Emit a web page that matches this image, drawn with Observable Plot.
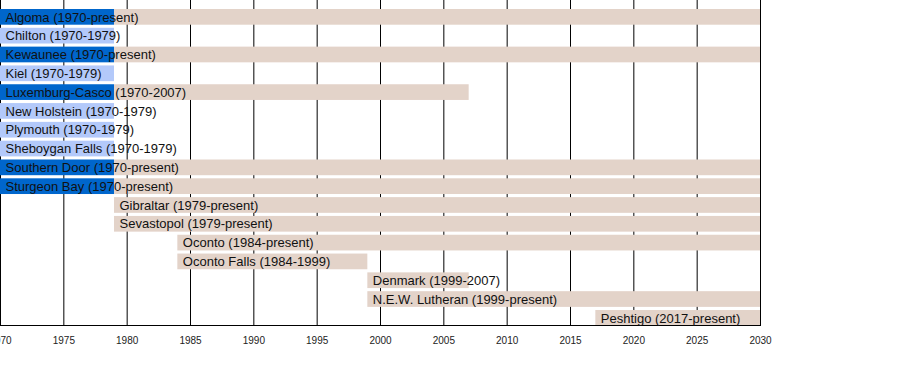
<!DOCTYPE html>
<html>
<head>
<meta charset="utf-8">
<script src="https://cdn.jsdelivr.net/npm/d3@7"></script>
<script src="https://cdn.jsdelivr.net/npm/@observablehq/plot@0.6"></script>
<style>
  html, body { margin: 0; padding: 0; background: #fff; }
  #chart svg { font-family: "Liberation Sans", Arial, sans-serif; }
</style>
</head>
<body>
<div id="chart"></div>
<script>
// Schools (row order) and their label text
const schools = ["Algoma", "Chilton", "Kewaunee", "Kiel", "Luxemburg-Casco", "New Holstein", "Plymouth", "Sheboygan Falls", "Southern Door", "Sturgeon Bay", "Gibraltar", "Sevastopol", "Oconto", "Oconto Falls", "Denmark", "N.E.W. Lutheran", "Peshtigo"];
const labels = ["Algoma (1970-present)", "Chilton (1970-1979)", "Kewaunee (1970-present)", "Kiel (1970-1979)", "Luxemburg-Casco (1970-2007)", "New Holstein (1970-1979)", "Plymouth (1970-1979)", "Sheboygan Falls (1970-1979)", "Southern Door (1970-present)", "Sturgeon Bay (1970-present)", "Gibraltar (1979-present)", "Sevastopol (1979-present)", "Oconto (1984-present)", "Oconto Falls (1984-1999)", "Denmark (1999-2007)", "N.E.W. Lutheran (1999-present)", "Peshtigo (2017-present)"];
const labelStart = [1970, 1970, 1970, 1970, 1970, 1970, 1970, 1970, 1970, 1970, 1979, 1979, 1984, 1984, 1999, 1999, 2017];

// Membership segments (2030 = present, right edge of the timeline)
const segSchool = ["Algoma", "Algoma", "Chilton", "Kewaunee", "Kewaunee", "Kiel", "Luxemburg-Casco", "Luxemburg-Casco", "New Holstein", "Plymouth", "Sheboygan Falls", "Southern Door", "Southern Door", "Sturgeon Bay", "Sturgeon Bay", "Gibraltar", "Sevastopol", "Oconto", "Oconto Falls", "Denmark", "N.E.W. Lutheran", "Peshtigo"];
const segStart = [1970, 1979, 1970, 1970, 1979, 1970, 1970, 1979, 1970, 1970, 1970, 1970, 1979, 1970, 1979, 1979, 1979, 1984, 1984, 1999, 1999, 2017];
const segEnd = [1979, 2030, 1979, 1979, 2030, 1979, 1979, 2007, 1979, 1979, 1979, 1979, 2030, 1979, 2030, 2030, 2030, 2030, 1999, 2007, 2030, 2030];
const segType = ["early-stay", "later", "early-left", "early-stay", "later", "early-left", "early-stay", "later", "early-left", "early-left", "early-left", "early-stay", "later", "early-stay", "later", "later", "later", "later", "later", "later", "later", "later"];

const xTicks = [1970, 1975, 1980, 1985, 1990, 1995, 2000, 2005, 2010, 2015, 2020, 2025, 2030];

const typeColors = {"early-stay": "#0066cc", "early-left": "#b3c9fa", "later": "#e3d3c9"};

const segs = segSchool.map((s, i) => ({school: s, start: segStart[i], end: segEnd[i], type: segType[i]}));
const labs = schools.map((s, i) => ({school: s, label: labels[i], start: labelStart[i]}));

const chart = Plot.plot({
  width: 900,
  height: 375,
  marginLeft: 0,
  marginRight: 140,
  marginTop: 0,
  marginBottom: 50,
  style: {fontFamily: "'Liberation Sans', Arial, sans-serif", overflow: "visible"},
  x: {domain: [1970, 2030]},
  y: {domain: schools, range: [9, 325.7], paddingInner: 0.165, paddingOuter: 0, round: false, axis: null},
  marks: [
    Plot.ruleX(xTicks, {stroke: "#000", strokeWidth: 1}),
    Plot.barX(segs, {y: "school", x1: "start", x2: "end", fill: d => typeColors[d.type]}),
    Plot.frame({anchor: "bottom", stroke: "#000"}),
    Plot.axisX({ticks: xTicks, tickSize: 0, tickPadding: 11, tickFormat: d => String(d), fontSize: 10, fill: "#222"}),
    Plot.text(labs, {y: "school", x: "start", text: "label", textAnchor: "start", dx: 5, fontSize: 13, fill: "#111"})
  ]
});
document.getElementById("chart").appendChild(chart);
</script>
</body>
</html>
